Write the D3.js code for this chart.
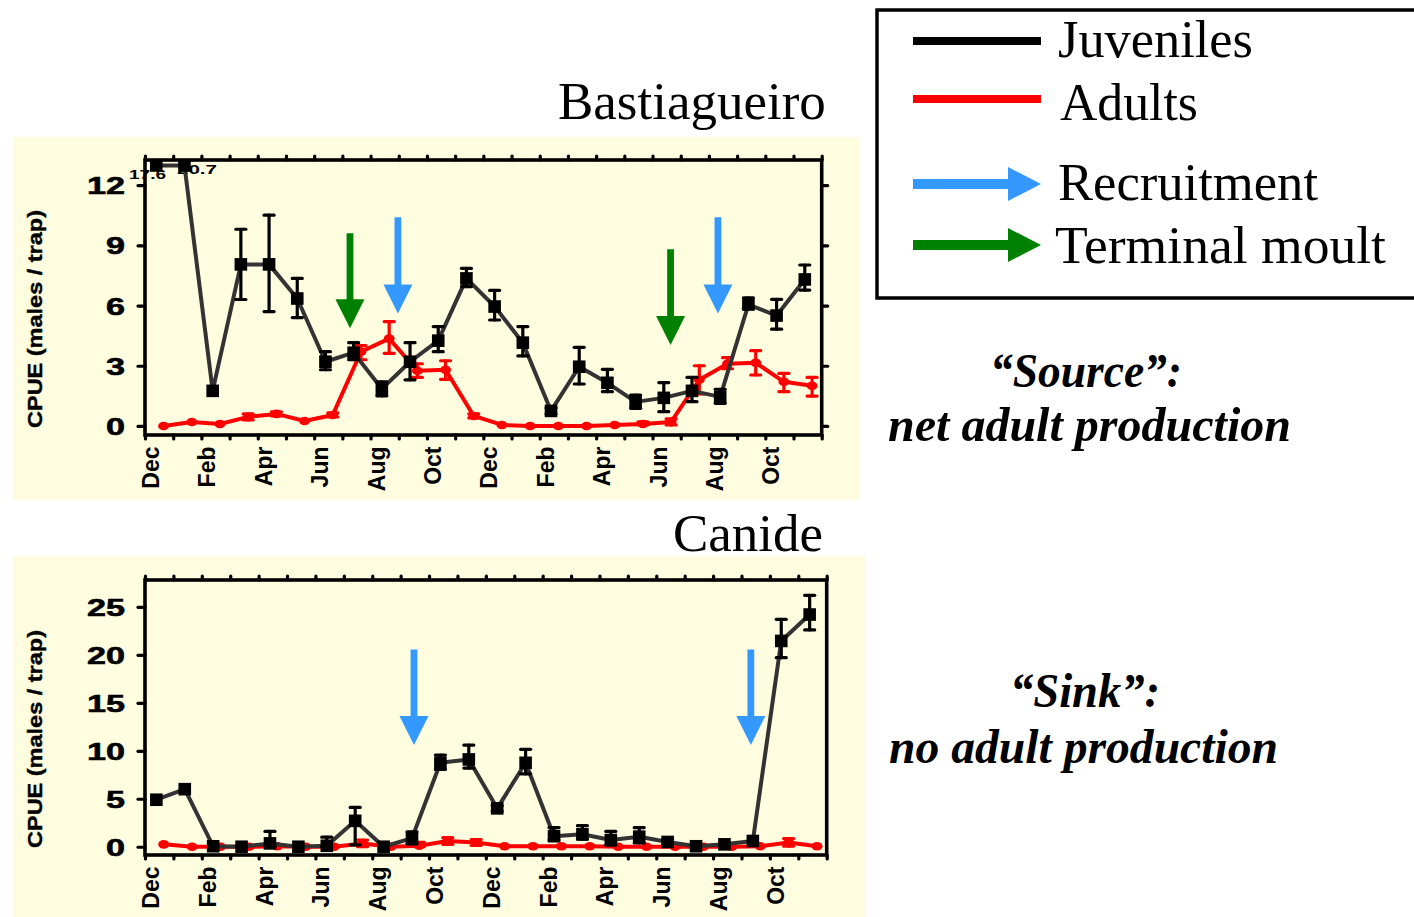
<!DOCTYPE html>
<html>
<head>
<meta charset="utf-8">
<script src="https://cdn.jsdelivr.net/npm/d3@7"></script>
<style>
  body { margin: 0; background: #ffffff; }
  svg { display: block; }
  .sans { font-family: "Liberation Sans", Arial, sans-serif; font-weight: bold; }
  .serif { font-family: "Liberation Serif", "Times New Roman", serif; }
</style>
</head>
<body>
<svg id="fig" width="1414" height="917"></svg>
<script>
// Monthly sampling, two years starting in December
const sampleMonths = ["Dec","Jan","Feb","Mar","Apr","May","Jun","Jul","Aug","Sep","Oct","Nov",
                      "Dec","Jan","Feb","Mar","Apr","May","Jun","Jul","Aug","Sep","Oct","Nov"];
const monthTickLabels = ["Dec","Feb","Apr","Jun","Aug","Oct","Dec","Feb","Apr","Jun","Aug","Oct"];

// Bastiagueiro — CPUE (males / trap)
const bastJuv   = [17.6, 20.7, 1.75, 8.05, 8.05, 6.35, 3.2, 3.65, 1.85, 3.2, 4.25, 7.35,
                   5.95, 4.15, 0.75, 2.95, 2.15, 1.2, 1.4, 1.75, 1.45, 6.05, 5.5, 7.3];
const bastJuvHi = [null, null, null, 9.8, 10.5, 7.35, 3.7, 4.15, 2.2, 4.15, 4.95, 7.85,
                   6.75, 4.95, 0.9, 3.92, 2.82, 1.54, 2.16, 2.42, 1.83, 6.38, 6.31, 8.02];
const bastJuvLo = [null, null, null, 6.3, 5.7, 5.4, 2.8, 3.3, 1.5, 2.3, 3.7, 6.94,
                   5.28, 3.49, 0.6, 2.09, 1.71, 0.88, 0.71, 1.21, 1.13, 5.86, 4.82, 6.77];
const bastAdu   = [0.0, 0.2, 0.1, 0.45, 0.6, 0.25, 0.55, 3.7, 4.35, 2.75, 2.8, 0.5,
                   0.05, 0.0, 0.0, 0.0, 0.05, 0.1, 0.2, 2.3, 3.1, 3.15, 2.2, 2.0];
const bastAduHi = [null, null, null, 0.6, 0.7, null, 0.65, 4.0, 5.2, 3.1, 3.25, 0.6,
                   null, null, null, null, null, 0.2, 0.35, 3.0, 3.4, 3.75, 2.62, 2.42];
const bastAduLo = [null, null, null, 0.3, 0.5, null, 0.45, 3.3, 3.62, 2.42, 2.32, 0.4,
                   null, null, null, null, null, 0.05, 0.05, 1.6, 2.85, 2.54, 1.71, 1.49];
const bastOffscale = [{i: 0, text: "17.6"}, {i: 1, text: "20.7"}];

// Canide — CPUE (males / trap)
const canJuv   = [4.9, 6.0, 0.05, 0.0, 0.35, 0.0, 0.1, 2.7, 0.0, 0.9, 8.75, 9.1,
                  4.0, 8.75, 1.1, 1.3, 0.7, 1.05, 0.5, 0.05, 0.25, 0.6, 21.45, 24.2];
const canJuvHi = [null, null, null, null, 1.6, null, 1.0, 4.1, null, 1.56, 9.55, 10.6,
                  4.3, 10.15, 2.0, 2.2, 1.6, 2.0, 0.8, null, null, null, 23.7, 26.2];
const canJuvLo = [null, null, null, null, 0.0, null, 0.0, 0.2, null, 0.3, 8.06, 8.2,
                  3.7, 7.6, 0.7, 0.8, 0.2, 0.4, 0.2, null, null, null, 19.7, 22.6];
const canAdu   = [0.25, 0.0, 0.0, 0.0, 0.05, 0.0, 0.0, 0.35, 0.0, 0.1, 0.6, 0.45,
                  0.05, 0.05, 0.05, 0.05, 0.0, 0.0, 0.0, 0.0, 0.0, 0.05, 0.45, 0.05];
const canAduHi = [null, null, null, null, null, null, null, 0.7, null, 0.45, 0.95, 0.75,
                  null, null, null, null, null, null, null, null, null, null, 0.85, null];
const canAduLo = [null, null, null, null, null, null, null, 0.0, null, 0.0, 0.25, 0.15,
                  null, null, null, null, null, null, null, null, null, null, 0.05, null];

// Event arrows: month position on the time axis, shaft start and tip in CPUE units
const bastRecruitment  = [{m: 8.97, from: 10.4, to: 5.6}, {m: 20.32, from: 10.4, to: 5.6}];
const bastTerminalMoult = [{m: 7.27, from: 9.6, to: 4.87}, {m: 18.64, from: 8.8, to: 4.03}];
const canRecruitment   = [{m: 9.47, from: 20.56, to: 10.6}, {m: 21.33, from: 20.56, to: 10.6}];

const yTicksBast = [0, 3, 6, 9, 12];
const yTicksCan  = [0, 5, 10, 15, 20, 25];

const legendItems = [
  {label: "Juveniles", kind: "line", color: "#000000"},
  {label: "Adults", kind: "line", color: "#ff0000"},
  {label: "Recruitment", kind: "arrow", color: "#3399ff"},
  {label: "Terminal moult", kind: "arrow", color: "#008000"}
];

const COL = {
  panel: "#fffde0",
  juvLine: "#333333",
  juv: "#000000",
  adu: "#ff0000",
  recruit: "#3399ff",
  moult: "#008000"
};

const svg = d3.select("#fig");

function downArrow(g, cx, yTop, yTip, color) {
  const head = 29, hw = 14.5, sw = 3.4;
  const yHead = yTip - head;
  g.append("path")
    .attr("d", `M${cx - sw},${yTop}L${cx + sw},${yTop}L${cx + sw},${yHead}L${cx + hw},${yHead}` +
               `L${cx},${yTip}L${cx - hw},${yHead}L${cx - sw},${yHead}Z`)
    .attr("fill", color);
}

function drawPanel(cfg) {
  const g = svg.append("g");
  // cream background
  g.append("rect").attr("x", cfg.bg[0]).attr("y", cfg.bg[1])
    .attr("width", cfg.bg[2]).attr("height", cfg.bg[3]).attr("fill", COL.panel);

  const x = d3.scaleLinear().domain([0, 24]).range([cfg.left, cfg.right]);
  const y = d3.scaleLinear().domain(cfg.yDomain).range([cfg.bottom, cfg.top]);
  const juvOff = 0.4, aduOff = 0.66;
  const yClamp = v => Math.max(y(v), cfg.top + 5.5);

  // arrows behind the data
  cfg.arrows.forEach(a => downArrow(g, x(a.m), y(a.from), y(a.to), a.color));

  // off-scale value labels
  (cfg.offscale || []).forEach((o, k) => {
    g.append("text").attr("class", "sans")
      .attr("x", k === 0 ? 129 : 177).attr("y", k === 0 ? 179 : 174)
      .attr("font-size", 12).attr("textLength", k === 0 ? 37 : 40)
      .attr("lengthAdjust", "spacingAndGlyphs").attr("fill", "#000").text(o.text);
  });

  // axes
  const axisStyle = sel => {
    sel.select(".domain").remove();
    sel.selectAll(".tick line").attr("stroke", "#000").attr("stroke-width", 3.2)
      .attr("stroke-linecap", "round");
  };
  const months = d3.range(0, 25);
  g.append("g").attr("transform", `translate(0,${cfg.bottom})`)
    .call(d3.axisBottom(x).tickValues(months).tickSize(4)
      .tickFormat(d => (d % 2 === 0 && d < 24) ? monthTickLabels[d / 2] : ""))
    .call(axisStyle)
    .call(s => s.selectAll("text").attr("class", "sans").attr("font-size", 23)
      .attr("fill", "#000").attr("transform", "rotate(-90)")
      .attr("text-anchor", "end").attr("x", -11.5).attr("y", 13.5).attr("dy", 0));
  g.append("g").attr("transform", `translate(0,${cfg.top})`)
    .call(d3.axisTop(x).tickValues(months).tickSize(4).tickFormat(""))
    .call(axisStyle);
  g.append("g").attr("transform", `translate(${cfg.left},0)`)
    .call(d3.axisLeft(y).tickValues(cfg.yTicks).tickSize(7).tickPadding(20))
    .call(axisStyle)
    .call(s => s.selectAll("text").attr("class", "sans").attr("font-size", 24)
      .attr("fill", "#000").attr("stroke", "#000").attr("stroke-width", 0.6)
      .attr("x", -20).attr("dy", "0.36em")
      .attr("textLength", d => String(d).length * 19)
      .attr("lengthAdjust", "spacingAndGlyphs"));
  if (cfg.rightTicks) {
    g.append("g").attr("transform", `translate(${cfg.right},0)`)
      .call(d3.axisRight(y).tickValues(cfg.yTicks).tickSize(6).tickFormat(""))
      .call(axisStyle);
  }
  // frame
  g.append("rect").attr("x", cfg.left).attr("y", cfg.top)
    .attr("width", cfg.right - cfg.left).attr("height", cfg.bottom - cfg.top)
    .attr("fill", "none").attr("stroke", "#000").attr("stroke-width", 3.6);

  // y-axis title
  g.append("text").attr("class", "sans").attr("font-size", 20)
    .attr("transform", `translate(${cfg.yLabelX},${cfg.yLabelY}) rotate(-90)`)
    .attr("text-anchor", "middle").attr("textLength", 218)
    .attr("lengthAdjust", "spacingAndGlyphs").attr("fill", "#000")
    .attr("stroke", "#000").attr("stroke-width", 0.4)
    .text("CPUE (males / trap)");

  // series
  const drawSeries = (vals, hi, lo, off, lineColor, markColor, marker) => {
    const sg = g.append("g");
    const pts = vals.map((v, i) => ({i, v, hi: hi[i], lo: lo[i]}));
    sg.append("path").datum(pts)
      .attr("d", d3.line().x(d => x(d.i + off)).y(d => yClamp(d.v)))
      .attr("fill", "none").attr("stroke", lineColor).attr("stroke-width", 4)
      .attr("stroke-linejoin", "round");
    const eb = pts.filter(d => d.hi != null);
    const ebg = sg.append("g").attr("stroke", markColor).attr("stroke-width", 3.2)
      .attr("stroke-linecap", "round");
    eb.forEach(d => {
      const cx = x(d.i + off);
      ebg.append("line").attr("x1", cx).attr("x2", cx)
        .attr("y1", y(d.hi)).attr("y2", y(d.lo));
      [d.hi, d.lo].forEach(b => ebg.append("line")
        .attr("x1", cx - 5).attr("x2", cx + 5).attr("y1", y(b)).attr("y2", y(b)));
    });
    if (marker === "square") {
      sg.selectAll("rect.pt").data(pts).join("rect").attr("class", "pt")
        .attr("x", d => x(d.i + off) - 6.3).attr("y", d => yClamp(d.v) - 6.3)
        .attr("width", 12.6).attr("height", 12.6).attr("fill", markColor);
    } else {
      sg.selectAll("ellipse.pt").data(pts).join("ellipse").attr("class", "pt")
        .attr("cx", d => x(d.i + off)).attr("cy", d => y(d.v))
        .attr("rx", 5.5).attr("ry", 4.3).attr("fill", markColor);
    }
  };
  drawSeries(cfg.adu, cfg.aduHi, cfg.aduLo, aduOff, COL.adu, COL.adu, "ellipse");
  drawSeries(cfg.juv, cfg.juvHi, cfg.juvLo, juvOff, COL.juvLine, COL.juv, "square");

  // site name
  g.append("text").attr("class", "serif").attr("font-size", 53)
    .attr("x", cfg.titleX).attr("y", cfg.titleY).attr("fill", "#000").text(cfg.title);
}

drawPanel({
  title: "Bastiagueiro", titleX: 558, titleY: 119,
  bg: [13, 137, 847, 363],
  left: 145, right: 821.7, top: 160, bottom: 435,
  yDomain: [-0.45, 13.25], yTicks: yTicksBast, rightTicks: true,
  yLabelX: 42, yLabelY: 319,
  juv: bastJuv, juvHi: bastJuvHi, juvLo: bastJuvLo,
  adu: bastAdu, aduHi: bastAduHi, aduLo: bastAduLo,
  offscale: bastOffscale,
  arrows: bastTerminalMoult.map(a => ({...a, color: COL.moult}))
    .concat(bastRecruitment.map(a => ({...a, color: COL.recruit})))
});

drawPanel({
  title: "Canide", titleX: 673, titleY: 551,
  bg: [13, 556, 853, 361],
  left: 145, right: 826.7, top: 580, bottom: 855,
  yDomain: [-0.86, 27.8], yTicks: yTicksCan, rightTicks: false,
  yLabelX: 42, yLabelY: 739,
  juv: canJuv, juvHi: canJuvHi, juvLo: canJuvLo,
  adu: canAdu, aduHi: canAduHi, aduLo: canAduLo,
  arrows: canRecruitment.map(a => ({...a, color: COL.recruit}))
});

// legend
const lg = svg.append("g");
lg.append("rect").attr("x", 877).attr("y", 10).attr("width", 600).attr("height", 288)
  .attr("fill", "#fff").attr("stroke", "#000").attr("stroke-width", 3.5);
const legendRows = [41, 99, 184, 245];
const legendText = [{x: 1058, y: 57, len: 195}, {x: 1060, y: 120, len: 138},
                    {x: 1058, y: 200, len: 260}, {x: 1055, y: 263, len: 331}];
legendItems.forEach((it, k) => {
  const cy = legendRows[k];
  if (it.kind === "line") {
    lg.append("line").attr("x1", 913).attr("x2", 1041).attr("y1", cy).attr("y2", cy)
      .attr("stroke", it.color).attr("stroke-width", 8);
  } else {
    lg.append("path")
      .attr("d", `M913,${cy - 5}L1008,${cy - 5}L1008,${cy - 17}L1041,${cy}L1008,${cy + 17}L1008,${cy + 5}L913,${cy + 5}Z`)
      .attr("fill", it.color);
  }
  lg.append("text").attr("class", "serif").attr("font-size", 52)
    .attr("x", legendText[k].x).attr("y", legendText[k].y)
    .attr("textLength", legendText[k].len).attr("lengthAdjust", "spacingAndGlyphs")
    .attr("fill", "#000").text(it.label);
});

// interpretation notes
const notes = [
  {text: "\u201cSource\u201d:", x: 990, y: 387, len: 192},
  {text: "net adult production", x: 888, y: 441, len: 403},
  {text: "\u201cSink\u201d:", x: 1010, y: 707, len: 150},
  {text: "no adult production", x: 889, y: 763, len: 389}
];
notes.forEach(n => svg.append("text").attr("class", "serif")
  .attr("font-size", 48).attr("font-weight", "bold").attr("font-style", "italic")
  .attr("x", n.x).attr("y", n.y).attr("textLength", n.len)
  .attr("lengthAdjust", "spacingAndGlyphs").attr("fill", "#000").text(n.text));
</script>
</body>
</html>
